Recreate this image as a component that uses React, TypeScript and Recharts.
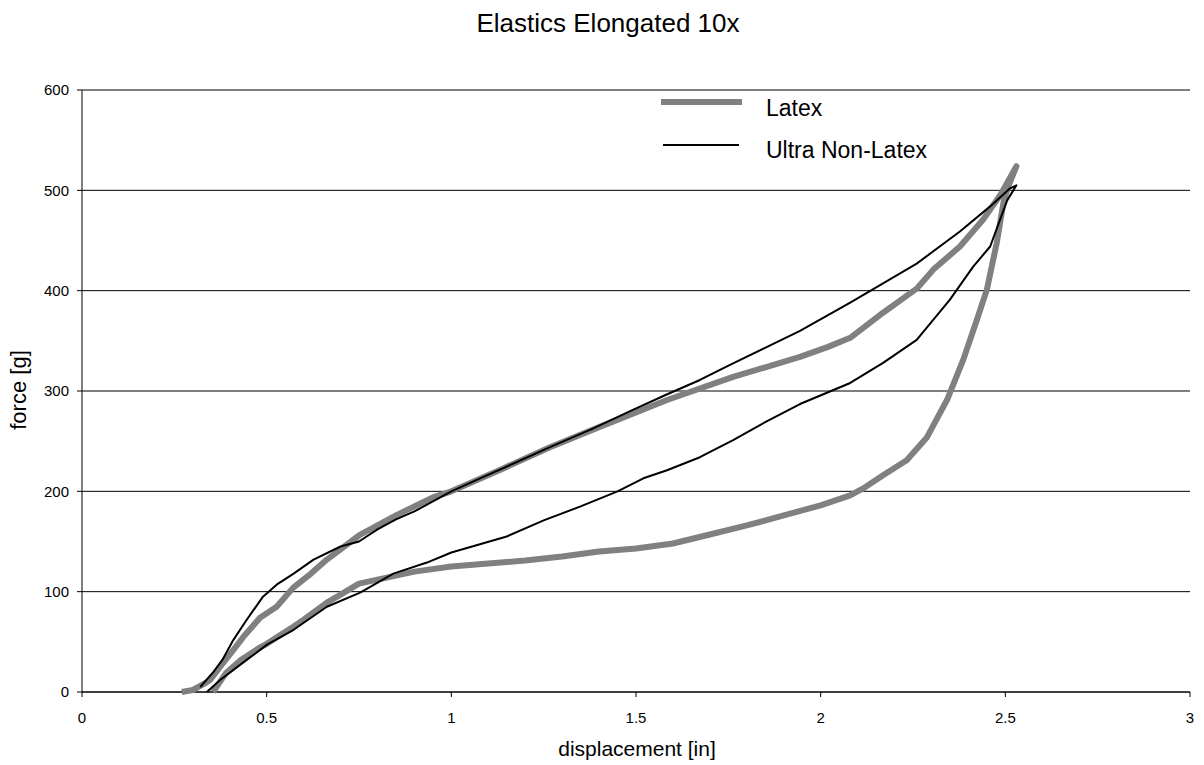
import React from 'react'
import { ScatterChart, Scatter, XAxis, YAxis, CartesianGrid, Legend } from 'recharts'

// [displacement in, force g]
const latexLoading: [number, number][] = [
  [0.27, 0], [0.3, 2], [0.33, 8], [0.347, 12], [0.38, 28], [0.41, 42], [0.437, 55],
  [0.482, 74], [0.527, 85], [0.572, 104], [0.62, 118], [0.663, 132], [0.75, 156],
  [0.85, 176], [0.95, 194], [1.0, 200], [1.13, 221], [1.267, 244], [1.4, 264],
  [1.584, 291], [1.763, 314], [1.944, 334], [2.02, 344], [2.08, 353], [2.169, 378],
  [2.26, 402], [2.305, 421], [2.377, 444], [2.44, 471], [2.486, 495], [2.53, 524],
]
const latexUnloading: [number, number][] = [
  [2.53, 524], [2.508, 504], [2.495, 488], [2.477, 448], [2.45, 401], [2.423, 371],
  [2.386, 331], [2.342, 291], [2.288, 254], [2.233, 231], [2.169, 216], [2.12, 204],
  [2.08, 196], [2.0, 186], [1.9, 176], [1.8, 166], [1.7, 157], [1.6, 148], [1.5, 143],
  [1.4, 140], [1.3, 135], [1.2, 131], [1.1, 128], [1.0, 125], [0.9, 120], [0.8, 112],
  [0.75, 108], [0.7, 97], [0.663, 89], [0.6, 72], [0.572, 65], [0.5, 48], [0.48, 44],
  [0.43, 32], [0.39, 19], [0.355, 0],
]
const ultraLoading: [number, number][] = [
  [0.32, 5], [0.356, 20], [0.38, 32], [0.41, 52], [0.446, 72], [0.49, 95], [0.527, 107],
  [0.573, 118], [0.627, 132], [0.7, 145], [0.75, 150], [0.8, 162], [0.85, 172], [0.9, 180],
  [1.0, 200], [1.078, 213], [1.17, 228], [1.267, 244], [1.38, 262], [1.49, 281],
  [1.58, 296], [1.673, 311], [1.76, 327], [1.855, 344], [1.944, 360], [2.08, 388],
  [2.26, 427], [2.377, 459], [2.459, 484], [2.513, 502], [2.53, 505],
]
const ultraUnloading: [number, number][] = [
  [2.53, 505], [2.505, 490], [2.495, 480], [2.459, 444], [2.413, 424], [2.35, 391],
  [2.26, 351], [2.169, 328], [2.08, 308], [1.944, 287], [1.855, 270],
  [1.763, 251], [1.673, 234], [1.584, 221], [1.52, 213], [1.45, 200], [1.35, 185],
  [1.25, 171], [1.15, 155], [1.0, 139], [0.934, 129], [0.843, 118], [0.753, 99],
  [0.663, 85], [0.573, 62], [0.5, 47], [0.446, 32], [0.374, 12], [0.338, 0],
]

const xTicks = [0, 0.5, 1, 1.5, 2, 2.5, 3]
const yTicks = [0, 100, 200, 300, 400, 500, 600]

const toPoints = (pairs: [number, number][]) => pairs.map(([x, y]) => ({ x, y }))

const latexData = toPoints([...latexLoading, ...latexUnloading])
const ultraData = toPoints([...ultraLoading, ...ultraUnloading])

const font = 'Arial, "Liberation Sans", sans-serif'

const noDot = () => <g />

const XTick = (props: any) => (
  <text x={props.x} y={props.y} dy="0.71em" textAnchor="middle" fontSize={15} fontFamily={font} fill="#000">
    {props.payload.value}
  </text>
)

const YTick = (props: any) => (
  <text x={props.x} y={props.y} dy="0.355em" textAnchor="end" fontSize={15} fontFamily={font} fill="#000">
    {props.payload.value}
  </text>
)

// legend drawn at page coordinates (wrapper sits at 0,0)
const renderLegend = () => (
  <div style={{ position: 'relative', fontFamily: font, fontSize: 23, color: '#000', lineHeight: 'normal' }}>
    <div style={{ position: 'absolute', left: 661, top: 99, width: 81, height: 6, background: '#808080' }} />
    <span style={{ position: 'absolute', left: 766, top: 95, whiteSpace: 'nowrap' }}>Latex</span>
    <div style={{ position: 'absolute', left: 663, top: 144, width: 76, height: 2, background: '#000' }} />
    <span style={{ position: 'absolute', left: 766, top: 137, whiteSpace: 'nowrap' }}>Ultra Non-Latex</span>
  </div>
)

export default function App() {
  return (
    <div style={{ position: 'absolute', left: 0, top: 0, width: 1204, height: 765, background: '#fff', fontFamily: font }}>
      <div style={{ position: 'absolute', top: 8, left: 0, width: 1216, textAlign: 'center', fontSize: 26 }}>
        Elastics Elongated 10x
      </div>
      <div
        style={{
          position: 'absolute', left: 19, top: 390, fontSize: 22,
          transform: 'translate(-50%, -50%) rotate(-90deg)', whiteSpace: 'nowrap',
        }}
      >
        force [g]
      </div>
      <div style={{ position: 'absolute', top: 737, left: 0, width: 1274, textAlign: 'center', fontSize: 21 }}>
        displacement [in]
      </div>
      <ScatterChart
        width={1204}
        height={765}
        margin={{ top: 90, right: 14, bottom: 43, left: 42 }}
        style={{ position: 'absolute', left: 0, top: 0 }}
      >
        <CartesianGrid vertical={false} stroke="#000" strokeWidth={1} />
        <XAxis
          type="number"
          dataKey="x"
          domain={[0, 3]}
          ticks={xTicks}
          height={30}
          stroke="#000"
          tickSize={5}
          tickMargin={15}
          tick={XTick}
        />
        <YAxis
          type="number"
          dataKey="y"
          domain={[0, 600]}
          ticks={yTicks}
          width={40}
          stroke="#000"
          tickSize={5}
          tickMargin={8}
          tick={YTick}
        />
        <Legend
          content={renderLegend}
          layout="horizontal"
          verticalAlign="middle"
          align="center"
          wrapperStyle={{ top: 0, left: 0, width: 0, height: 0 }}
        />
        <Scatter
          name="Latex"
          data={latexData}
          line={{ stroke: '#808080', strokeWidth: 6, strokeLinejoin: 'round' }}
          lineType="joint"
          shape={noDot}
          isAnimationActive={false}
        />
        <Scatter
          name="Ultra Non-Latex"
          data={ultraData}
          line={{ stroke: '#000', strokeWidth: 2, strokeLinejoin: 'round' }}
          lineType="joint"
          shape={noDot}
          isAnimationActive={false}
        />
      </ScatterChart>
    </div>
  )
}
